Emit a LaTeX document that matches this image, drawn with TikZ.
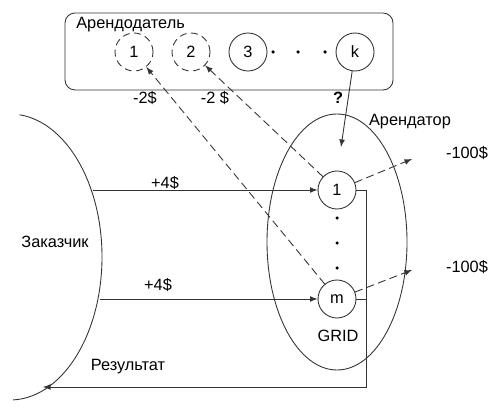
\documentclass[tikz,border=0pt]{standalone}
\usepackage{fontspec}
\setmainfont{Liberation Sans}
\usepackage{tikz}
\usetikzlibrary{positioning}

\tikzset{
  unit/.style = {draw, circle, minimum size = 0.76cm, inner sep = 0pt},
  freeunit/.style = {unit, dash pattern = on 4pt off 2.5pt},
  pay/.style = {dash pattern = on 4.5pt off 2.5pt},
  dot/.style = {circle, fill, inner sep = 0pt, minimum size = 2pt}
}

\begin{document}
\begin{tikzpicture}[>=latex, line width = 0.5pt, draw = black!80, font = \fontsize{9.3}{11}\selectfont]
\useasboundingbox (0, 0) rectangle (10, 8.2);
% owner box
\draw [rounded corners = 0.2cm] (1.30, 6.40) rectangle (7.86, 7.94);
\node [anchor = west] (owner) at (1.40, 7.70) {Арендодатель};
\node [freeunit] (t1) at (2.68, 7.16) {1};
\node [freeunit] (t2) at (3.82, 7.16) {2};
\node [unit] (t3) at (4.96, 7.16) {3};
\node [unit] (tk) at (7.10, 7.16) {k};
\node [dot] at (5.46, 7.16) {};
\node [dot] at (5.96, 7.16) {};
\node [dot] at (6.50, 7.16) {};
% customer
\draw (0.20, 3.06) ++ (84:1.84 and 2.86) arc [start angle = 84, end angle = -88, x radius = 1.84, y radius = 2.86];
\node (customer) at (1.10, 3.36) {Заказчик};
% tenant
\draw (6.74, 3.36) ellipse [x radius = 1.40, y radius = 2.56];
\node (tenant) at (8.20, 5.76) {Арендатор};
\node (grid) at (6.76, 1.48) {GRID};
\node [unit] (g1) at (6.74, 4.40) {1};
\node [unit] (gm) at (6.74, 2.22) {m};
\node [dot] at (6.74, 3.84) {};
\node [dot] at (6.74, 3.34) {};
\node [dot] at (6.74, 2.84) {};
\coordinate (c1) at (1.86, 4.40);
\coordinate (cm) at (2.00, 2.22);
\coordinate (q) at (6.82, 5.26);
\coordinate (o1) at (8.24, 5.02);
\coordinate (om) at (8.24, 2.80);
\coordinate (r1) at (7.32, 4.40);
\coordinate (rm) at (7.32, 2.22);
\coordinate (r2) at (7.32, 0.46);
\coordinate (r3) at (0.86, 0.46);
\draw [->] (c1) -- (g1);
\draw [->] (cm) -- (gm);
\node at (3.30, 4.54) {+4\$};
\node at (3.16, 2.50) {+4\$};
\draw [->] (tk) -- (q);
\node at (6.76, 6.24) {\textbf{?}};
\draw [->, pay] (g1) -- (t2);
\draw [->, pay] (gm) -- (t1);
\node at (2.90, 6.24) {-2\$};
\node at (4.30, 6.24) {-2 \$};
\draw [->, pay] (g1) -- (o1);
\draw [->, pay] (gm) -- (om);
\node at (9.34, 5.14) {-100\$};
\node at (9.34, 2.86) {-100\$};
\draw [->] (g1.east) -- (r1) -- (r2) -- (r3);
\draw (gm.east) -- (rm);
\node (result) at (2.56, 0.86) {Результат};
\end{tikzpicture}
\end{document}
